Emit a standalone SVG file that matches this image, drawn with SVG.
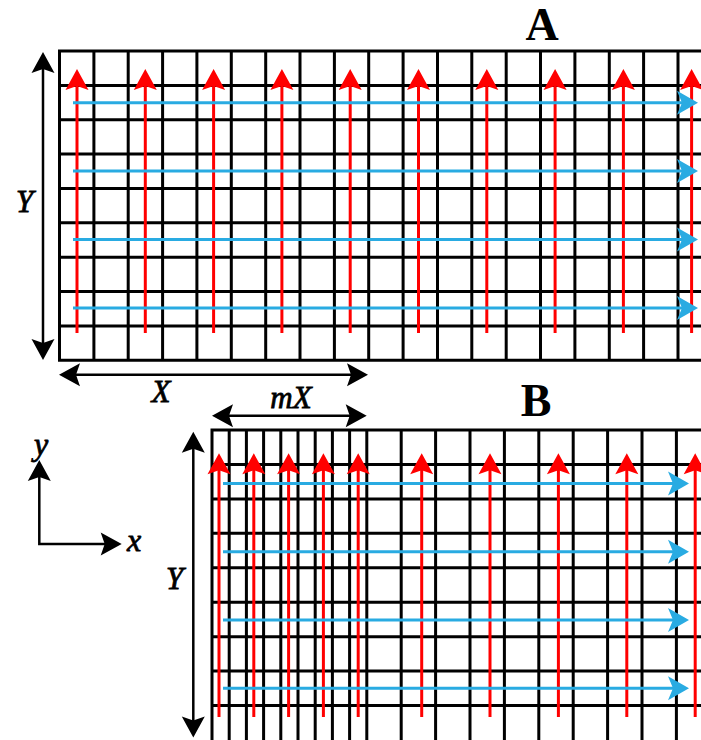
<svg xmlns="http://www.w3.org/2000/svg" width="701" height="740" viewBox="0 0 701 740">
  <style>
    .grid { fill: none; stroke: #000; stroke-width: 3; stroke-linecap: square; }
    .red { stroke: #ff0000; stroke-width: 3; marker-end: url(#head-red); }
    .blue { stroke: #29abe2; stroke-width: 3; marker-end: url(#head-blue); }
    .dim { fill: none; stroke: #000; stroke-width: 2.5; marker-start: url(#head-black); marker-end: url(#head-black); }
    .lab { font-family: "Liberation Serif", "DejaVu Serif", serif; font-style: italic; font-size: 31px; fill: #000; stroke: #000; stroke-width: 0.8; text-anchor: middle; }
    .axis { font-size: 32px; }
    .title { font-family: "Liberation Serif", "DejaVu Serif", serif; font-weight: bold; font-size: 46px; fill: #000; text-anchor: middle; }
  </style>
  <defs>
    <!-- arrowheads: tip sits 12 units past the line end -->
    <marker id="head-red" markerUnits="userSpaceOnUse" orient="auto" overflow="visible" markerWidth="1" markerHeight="1">
      <path d="M12 0 L-9 -11.5 L-5 0 L-9 11.5 Z" fill="#ff0000"/>
    </marker>
    <marker id="head-blue" markerUnits="userSpaceOnUse" orient="auto" overflow="visible" markerWidth="1" markerHeight="1">
      <path d="M12 0 L-9 -12 L-4 0 L-9 12 Z" fill="#29abe2"/>
    </marker>
    <marker id="head-black" markerUnits="userSpaceOnUse" orient="auto-start-reverse" overflow="visible" markerWidth="1" markerHeight="1">
      <path d="M12 0 L-9 -11.5 L-5 0 L-9 11.5 Z" fill="#000"/>
    </marker>
  </defs>

  <!-- Panel A: uniform mesh -->
  <g id="panel-a">
    <path class="grid" d="M59.5 51V360.2 M93.9 51V360.2 M128.2 51V360.2 M162.6 51V360.2 M196.9 51V360.2 M231.3 51V360.2 M265.7 51V360.2 M300 51V360.2 M334.4 51V360.2 M368.7 51V360.2 M403.1 51V360.2 M437.5 51V360.2 M471.8 51V360.2 M506.2 51V360.2 M540.5 51V360.2 M574.9 51V360.2 M609.3 51V360.2 M643.6 51V360.2 M678 51V360.2
      M59.5 51H702 M59.5 85.4H702 M59.5 119.7H702 M59.5 154.1H702 M59.5 188.4H702 M59.5 222.8H702 M59.5 257.2H702 M59.5 291.5H702 M59.5 325.9H702 M59.5 360.2H702"/>
    <g id="a-flow-y">
      <line class="red" x1="77" y1="333" x2="77" y2="81"/>
      <line class="red" x1="145.3" y1="333" x2="145.3" y2="81"/>
      <line class="red" x1="213.6" y1="333" x2="213.6" y2="81"/>
      <line class="red" x1="281.9" y1="333" x2="281.9" y2="81"/>
      <line class="red" x1="350.2" y1="333" x2="350.2" y2="81"/>
      <line class="red" x1="418.5" y1="333" x2="418.5" y2="81"/>
      <line class="red" x1="486.8" y1="333" x2="486.8" y2="81"/>
      <line class="red" x1="555.1" y1="333" x2="555.1" y2="81"/>
      <line class="red" x1="623.4" y1="333" x2="623.4" y2="81"/>
      <line class="red" x1="691.6" y1="333" x2="691.6" y2="81"/>
    </g>
    <g id="a-flow-x">
      <line class="blue" x1="73" y1="102.7" x2="686" y2="102.7"/>
      <line class="blue" x1="73" y1="171.1" x2="686" y2="171.1"/>
      <line class="blue" x1="73" y1="239.5" x2="686" y2="239.5"/>
      <line class="blue" x1="73" y1="307.9" x2="686" y2="307.9"/>
    </g>
    <text class="title" x="542" y="40">A</text>
  </g>

  <!-- Panel B: mesh refined over width mX -->
  <g id="panel-b">
    <path class="grid" d="M212 430V742 M229.2 430V742 M246.4 430V742 M263.6 430V742 M280.8 430V742 M298 430V742 M315.2 430V742 M332.4 430V742 M349.6 430V742 M366.8 430V742 M401.2 430V742 M435.6 430V742 M470 430V742 M504.4 430V742 M538.8 430V742 M573.2 430V742 M607.6 430V742 M642 430V742 M676.4 430V742
      M212 430H702 M212 464.4H702 M212 498.9H702 M212 533.3H702 M212 567.8H702 M212 602.2H702 M212 636.7H702 M212 671.1H702 M212 705.6H702"/>
    <g id="b-flow-y">
      <line class="red" x1="219" y1="717" x2="219" y2="465.3"/>
      <line class="red" x1="253.8" y1="717" x2="253.8" y2="465.3"/>
      <line class="red" x1="288.6" y1="717" x2="288.6" y2="465.3"/>
      <line class="red" x1="323.4" y1="717" x2="323.4" y2="465.3"/>
      <line class="red" x1="358.2" y1="717" x2="358.2" y2="465.3"/>
      <line class="red" x1="421.7" y1="717" x2="421.7" y2="465.3"/>
      <line class="red" x1="490" y1="717" x2="490" y2="465.3"/>
      <line class="red" x1="558.4" y1="717" x2="558.4" y2="465.3"/>
      <line class="red" x1="626.8" y1="717" x2="626.8" y2="465.3"/>
      <line class="red" x1="695.2" y1="717" x2="695.2" y2="465.3"/>
    </g>
    <g id="b-flow-x">
      <line class="blue" x1="223" y1="483.4" x2="677" y2="483.4"/>
      <line class="blue" x1="223" y1="551.7" x2="677" y2="551.7"/>
      <line class="blue" x1="223" y1="620" x2="677" y2="620"/>
      <line class="blue" x1="223" y1="688.3" x2="677" y2="688.3"/>
    </g>
    <text class="title" x="536" y="416">B</text>
  </g>

  <!-- Dimension arrows -->
  <g id="dimensions">
    <line class="dim" x1="43" y1="64" x2="43" y2="348"/>
    <line class="dim" x1="71" y1="374.7" x2="356" y2="374.7"/>
    <line class="dim" x1="224" y1="415.7" x2="354.7" y2="415.7"/>
    <line class="dim" x1="193.3" y1="443.7" x2="193.3" y2="725.5"/>
    <text class="lab" x="24.5" y="211.7">Y</text>
    <text class="lab" x="161" y="401.7">X</text>
    <text class="lab" x="291" y="407.7">mX</text>
    <text class="lab" x="174.5" y="589.3">Y</text>
  </g>

  <!-- Coordinate axes -->
  <g id="axes">
    <path class="dim" d="M39.3 472V544H109.7"/>
    <text class="lab axis" x="41" y="455">y</text>
    <text class="lab axis" x="134" y="550.7">x</text>
  </g>
</svg>
